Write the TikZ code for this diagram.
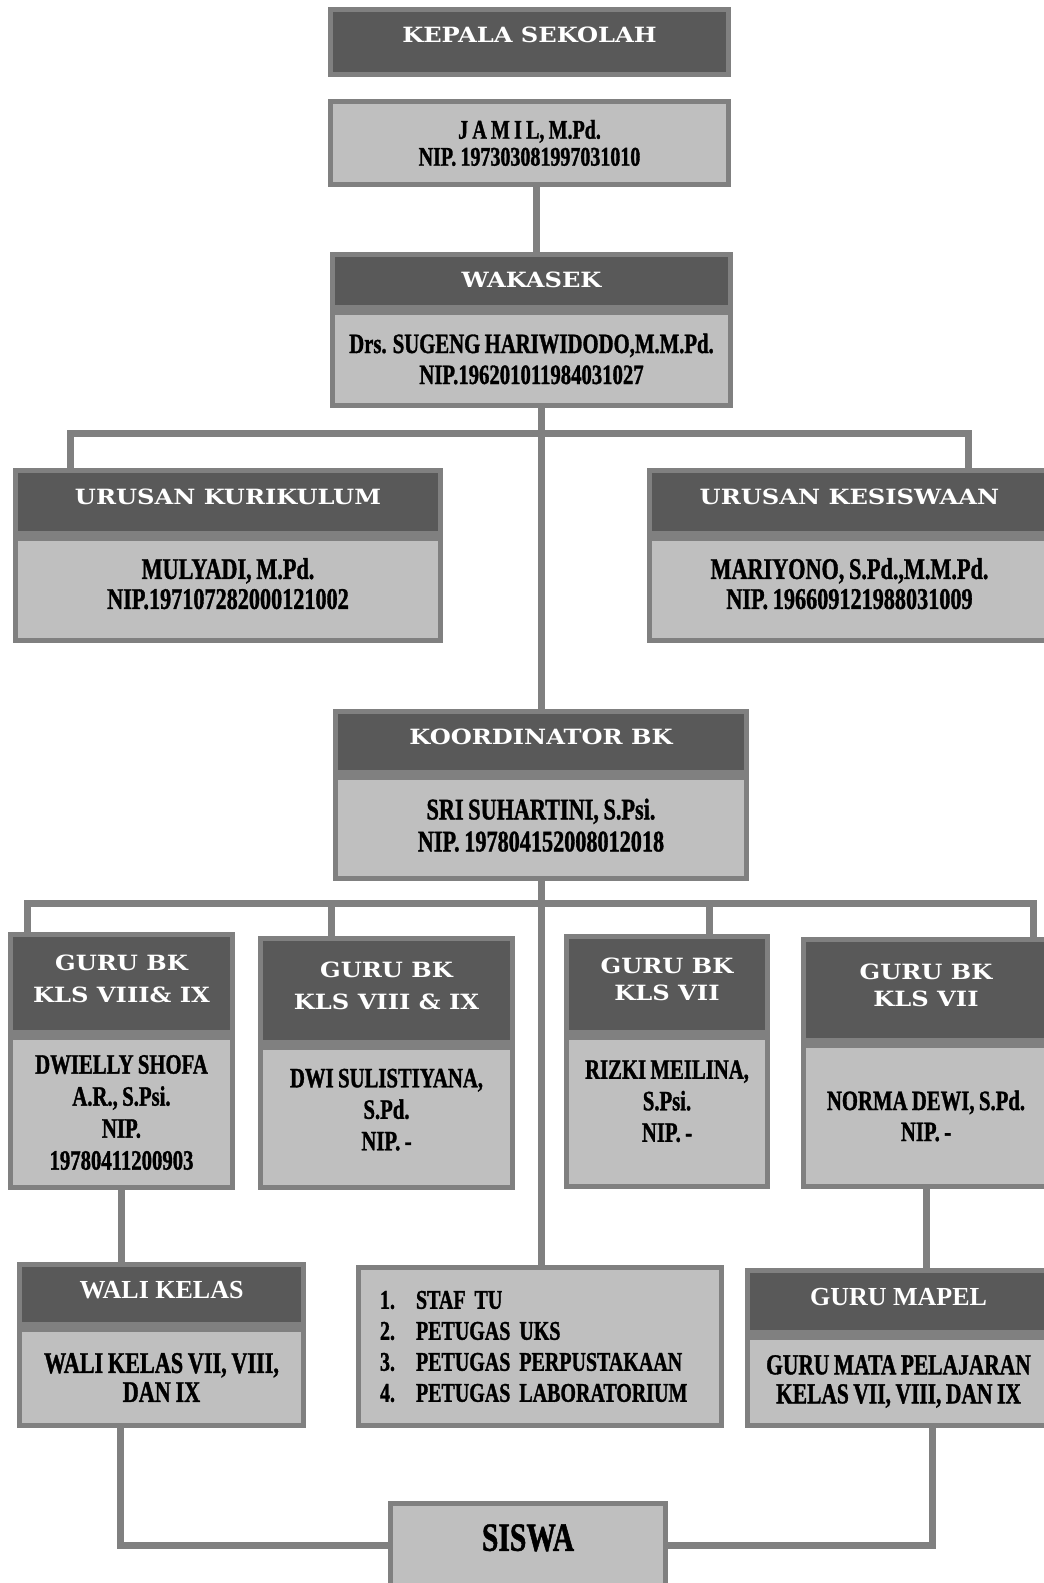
\documentclass[tikz,border=0pt]{standalone}
\usepackage{fontspec}
\newfontfamily\hdfont{DejaVu Serif}[FakeStretch=1.15]
\newfontfamily\bdfont{Liberation Serif}[FakeStretch=0.74, FakeBold=1.2, WordSpace=0.85]
\newfontfamily\whfont{Liberation Serif}
\usetikzlibrary{positioning, calc}
\definecolor{hdgray}{HTML}{595959}
\definecolor{bdgray}{HTML}{BFBFBF}
\definecolor{lngray}{HTML}{808080}

\begin{document}
\begin{tikzpicture}[x=1pt, y=-1pt]
    \tikzstyle{head}=[draw=lngray, line width=5pt, fill=hdgray, text=white, inner sep=0pt, align=center, text depth=10pt, font=\hdfont\bfseries\fontsize{21}{32}\selectfont];
    \tikzstyle{body}=[draw=lngray, line width=5pt, fill=bdgray, inner sep=0pt, align=center];
    \tikzstyle{conn}=[draw=lngray, line width=7pt];
    \path[use as bounding box, fill=white] (0,0) rectangle (1044,1583);

    \node[head, minimum width=398pt, minimum height=65pt, text depth=14pt] (kepala) at (529.5,42) {KEPALA SEKOLAH};
    \node[body, minimum width=398pt, minimum height=83pt, font=\bdfont\bfseries\fontsize{27}{27}\selectfont] (jamil) at (529.5,143) {J A M I L, M.Pd.\\NIP. 197303081997031010};

    \node[head, minimum width=398pt, minimum height=53pt, text depth=2pt] (wakhead) at (531.5,281) {WAKASEK};
    \node[body, minimum width=398pt, minimum height=93pt, font=\bdfont\bfseries\fontsize{28}{31}\selectfont] (wakbody) at (531.5,359) {Drs. SUGENG HARIWIDODO,M.M.Pd.\\NIP.196201011984031027};

    \node[head, minimum width=425pt, minimum height=63pt] (kurhead) at (228,502) {URUSAN KURIKULUM};
    \node[body, minimum width=425pt, minimum height=102pt, text depth=12pt, font=\bdfont\bfseries\fontsize{30}{30}\selectfont] (kurbody) at (228,589.5) {MULYADI, M.Pd.\\NIP.197107282000121002};
    \node[head, minimum width=400pt, minimum height=63pt] (keshead) at (849.5,502) {URUSAN KESISWAAN};
    \node[body, minimum width=400pt, minimum height=102pt, text depth=12pt, font=\bdfont\bfseries\fontsize{30}{30}\selectfont] (kesbody) at (849.5,589.5) {MARIYONO, S.Pd.,M.M.Pd.\\NIP. 196609121988031009};

    \node[head, minimum width=411pt, minimum height=61pt] (kordhead) at (541,742) {KOORDINATOR BK};
    \node[body, minimum width=411pt, minimum height=101pt, text depth=6pt, font=\bdfont\bfseries\fontsize{30}{32}\selectfont] (kordbody) at (541,828) {SRI SUHARTINI, S.Psi.\\NIP. 197804152008012018};

    \node[head, minimum width=222pt, minimum height=98pt] (bk1head) at (121.5,983.5) {GURU BK\\KLS VIII\& IX};
    \node[body, minimum width=222pt, minimum height=150pt, font=\bdfont\bfseries\fontsize{28}{32}\selectfont] (bk1body) at (121.5,1112.5) {DWIELLY SHOFA\\A.R., S.Psi.\\NIP.\\19780411200903};
    \node[head, minimum width=252pt, minimum height=104pt] (bk2head) at (386.5,990.5) {GURU BK\\KLS VIII \& IX};
    \node[body, minimum width=252pt, minimum height=140pt, text depth=16pt, font=\bdfont\bfseries\fontsize{28}{31.5}\selectfont] (bk2body) at (386.5,1117.5) {DWI SULISTIYANA,\\S.Pd.\\NIP. -};
    \node[head, minimum width=201pt, minimum height=96pt, font=\hdfont\bfseries\fontsize{21}{27}\selectfont] (bk3head) at (667,984.5) {GURU BK\\KLS VII};
    \node[body, minimum width=201pt, minimum height=149pt, text depth=22pt, font=\bdfont\bfseries\fontsize{28}{31.5}\selectfont] (bk3body) at (667,1112) {RIZKI MEILINA,\\S.Psi.\\NIP. -};
    \node[head, minimum width=245pt, minimum height=101pt, font=\hdfont\bfseries\fontsize{21}{27}\selectfont] (bk4head) at (926,990) {GURU BK\\KLS VII};
    \node[body, minimum width=245pt, minimum height=141pt, font=\bdfont\bfseries\fontsize{28}{31}\selectfont] (bk4body) at (926,1116) {NORMA DEWI, S.Pd.\\NIP. -};

    \node[head, minimum width=284pt, minimum height=60pt, font=\whfont\bfseries\fontsize{26}{28}\selectfont] (walihead) at (161.5,1294.5) {WALI KELAS};
    \node[body, minimum width=284pt, minimum height=96pt, font=\bdfont\bfseries\fontsize{30}{29}\selectfont] (walibody) at (161.5,1377.5) {WALI KELAS VII, VIII,\\DAN IX};
    \node[body, minimum width=363pt, minimum height=158pt, text width=320pt, align=left, font=\bdfont\bfseries\fontsize{27}{31}\selectfont] (tugas) at (540,1346.5) {\makebox[36pt][l]{1.}STAF TU\\\makebox[36pt][l]{2.}PETUGAS UKS\\\makebox[36pt][l]{3.}PETUGAS PERPUSTAKAAN\\\makebox[36pt][l]{4.}PETUGAS LABORATORIUM};
    \node[head, minimum width=302pt, minimum height=62pt, font=\whfont\bfseries\fontsize{26}{28}\selectfont] (mapelhead) at (898.5,1301.5) {GURU MAPEL};
    \node[body, minimum width=302pt, minimum height=88pt, font=\bdfont\bfseries\fontsize{29}{29}\selectfont] (mapelbody) at (898.5,1381.5) {GURU MATA PELAJARAN\\KELAS VII, VIII, DAN IX};

    \node[body, minimum width=275pt, minimum height=94pt, text depth=26pt, font=\bdfont\bfseries\fontsize{40}{40}\selectfont] (siswa) at (528,1550.5) {SISWA};

    \coordinate (jamildrop) at (536,200);
    \coordinate (kurdrop) at (70,433);
    \coordinate (kesdrop) at (968,433);
    \coordinate (bk1drop) at (27,903);
    \coordinate (bk2drop) at (331,903);
    \coordinate (bk3drop) at (709,903);
    \coordinate (bk4drop) at (1033,903);
    \coordinate (walicorner) at (120,1545);
    \coordinate (mapelcorner) at (932,1545);

    \draw[conn] (jamil.south -| jamildrop) -- (wakhead.north -| jamildrop);
    \draw[conn] (wakbody.south -| kordhead.north) -- (kordhead.north);
    \draw[conn] (kurhead.north -| kurdrop) -- (kurdrop) -- (kesdrop) -- (keshead.north -| kesdrop);
    \draw[conn] (kordbody.south) -- (kordbody.south |- tugas.north);
    \draw[conn] (bk1head.north -| bk1drop) -- (bk1drop) -- (bk4drop) -- (bk4head.north -| bk4drop);
    \draw[conn] (bk2drop) -- (bk2head.north -| bk2drop);
    \draw[conn] (bk3drop) -- (bk3head.north -| bk3drop);
    \draw[conn] (bk1body.south) -- (bk1body.south |- walihead.north);
    \draw[conn] (bk4body.south) -- (bk4body.south |- mapelhead.north);
    \draw[conn] (walibody.south -| walicorner) -- (walicorner) -- (siswa.west |- walicorner);
    \draw[conn] (mapelbody.south -| mapelcorner) -- (mapelcorner) -- (siswa.east |- mapelcorner);
\end{tikzpicture}
\end{document}
